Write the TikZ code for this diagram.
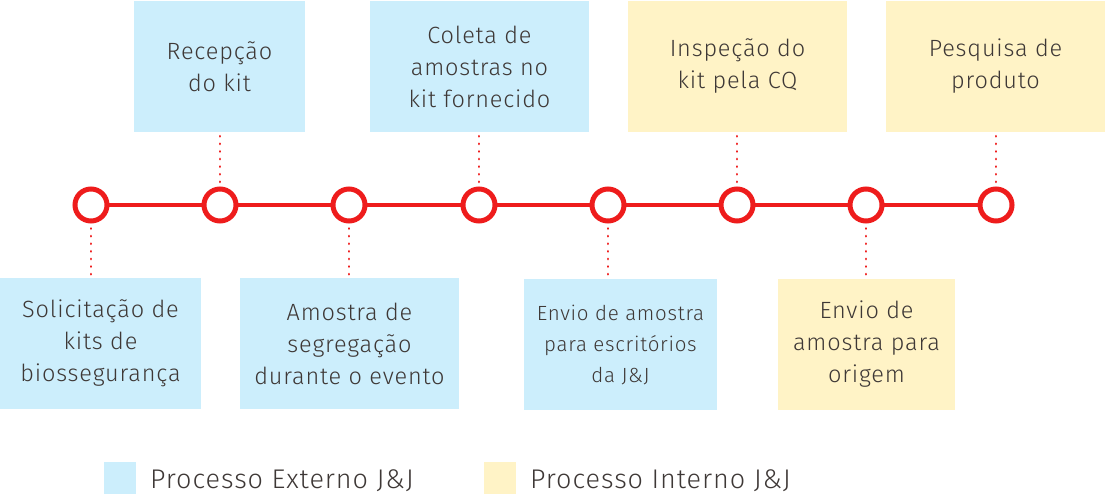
\documentclass[tikz,border=0pt]{standalone}
\usepackage{fontspec}
\setmainfont{Fira Sans}[UprightFont={* Light},LetterSpace=3.5]
\definecolor{ext}{HTML}{CCEEFC}
\definecolor{intr}{HTML}{FFF3C6}
\definecolor{tl}{HTML}{EE1C1C}
\definecolor{txt}{HTML}{3E3836}
\begin{document}
\begin{tikzpicture}[x=1pt,y=-1pt,
  box/.style={inner sep=0pt,text=txt,align=center,font=\fontsize{23.5}{32}\selectfont},
  extbox/.style={box,fill=ext},
  intbox/.style={box,fill=intr},
  dot/.style={circle,draw=tl,line width=5pt,minimum size=32pt,inner sep=0pt,fill=white},
  conn/.style={tl,line width=2.8pt,dash pattern=on 0.1pt off 7.5pt,line cap=round},
  leg/.style={text=txt,font=\fontsize{27}{28}\selectfont,anchor=west,inner sep=0pt}]
\useasboundingbox (0,0) rectangle (1107,497);
% boxes top
\node[extbox,minimum width=171pt,minimum height=131pt] (b2) at (219.5,66.5) {Recepção\\do kit};
\node[extbox,minimum width=219pt,minimum height=131pt] (b4) at (479.5,66.5) {Coleta de\\amostras no\\kit fornecido};
\node[intbox,minimum width=219pt,minimum height=131pt] (b6) at (737.5,66.5) {Inspeção do\\kit pela CQ};
\node[intbox,minimum width=219pt,minimum height=131pt] (b8) at (995.5,66.5) {Pesquisa de\\produto};
% boxes bottom
\node[extbox,minimum width=201pt,minimum height=131pt] (b1) at (100.5,343.5) {Solicitação de\\kits de\\biossegurança};
\node[extbox,minimum width=219pt,minimum height=131pt] (b3) at (349.5,343.5) {Amostra de\\segregação\\durante o evento};
\node[extbox,minimum width=193pt,minimum height=131pt,font=\fontsize{20.5}{31}\selectfont] (b5) at (620.5,344.5) {Envio de amostra\\para escritórios\\da J\&J};
\node[intbox,minimum width=177pt,minimum height=131pt] (b7) at (866.5,344.5) {Envio de\\amostra para\\origem};
% timeline
\coordinate (s) at (91,205);
\coordinate (e) at (996,205);
\draw[tl,line width=4pt] (s) -- (e);
\foreach \i/\x in {1/91,2/220,3/349,4/479,5/608,6/737,7/866,8/996}
  \node[dot] (c\i) at (\x,205) {};
% connectors
\foreach \i in {2,4,6,8}
  \draw[conn] (b\i.south -| c\i) ++(0,4) -- (c\i.north);
\foreach \i in {1,3,5,7}
  \draw[conn] (c\i.south) ++(0,5) -- (c\i |- b\i.north);
% legend
\node[fill=ext,minimum size=32pt,inner sep=0pt] (l1) at (120,478) {};
\node[leg] (t1) at (150,481) {Processo Externo J\&J};
\node[fill=intr,minimum size=32pt,inner sep=0pt] (l2) at (500,478) {};
\node[leg] (t2) at (530,481) {Processo Interno J\&J};
\end{tikzpicture}
\end{document}
